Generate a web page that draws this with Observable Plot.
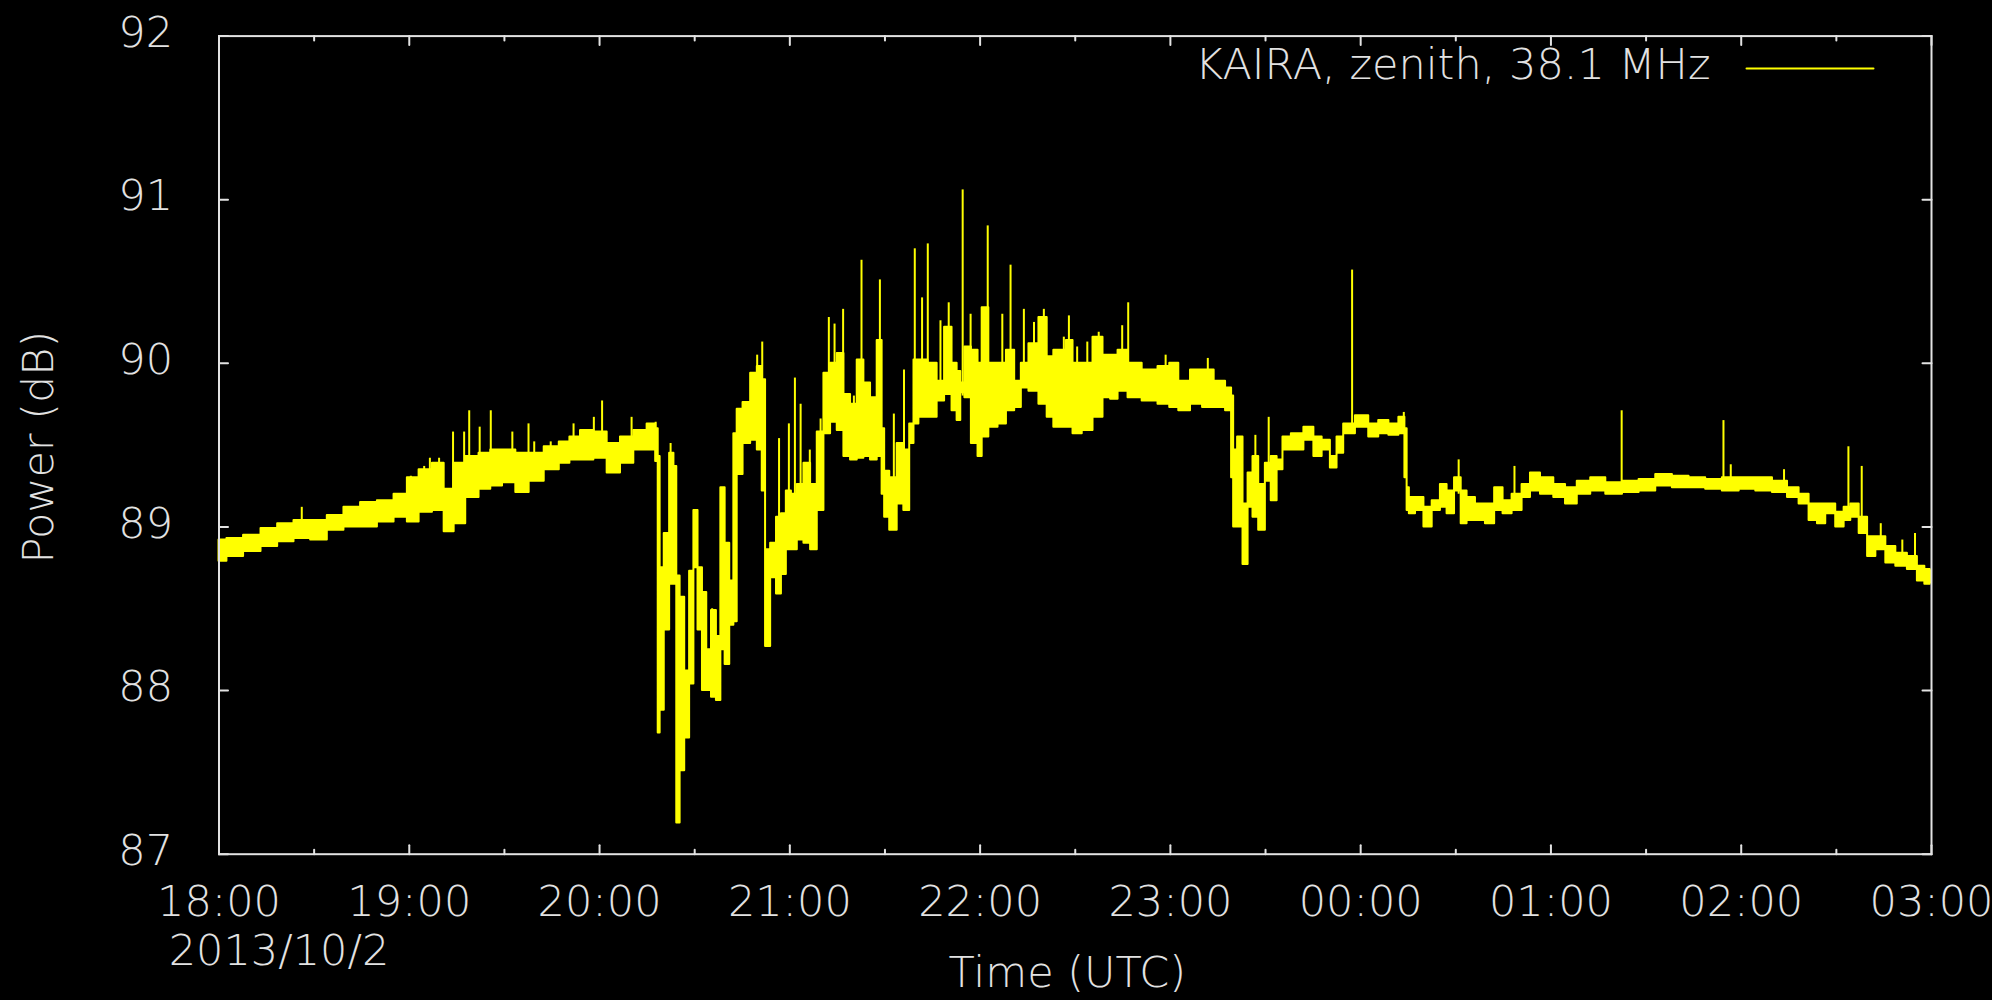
<!DOCTYPE html>
<html>
<head>
<meta charset="utf-8">
<script src="https://cdn.jsdelivr.net/npm/d3@7"></script>
<script src="https://cdn.jsdelivr.net/npm/@observablehq/plot@0.6"></script>
<style>
  html, body { margin: 0; padding: 0; background: #000; }
  #chart svg { display: block; }
</style>
</head>
<body>
<div id="chart"></div>
<script>
// Minutes after 2013/10/2 18:00 UTC
const bandMinutes = [0,5,10.5,16,21,26.3,31.5,36.8,42,47.3,52.6,57.8,61,65.2,69.4,72.6,75.7,79.9,84.1,87.3,91.5,95.7,99.9,105.2,109.4,111.9,116.1,120.3,124.5,128.7,132.9,137.1,138.3,138.7,139.5,141.3,142.9,144.0,144.7,146.1,147.6,149.2,150.3,151.8,153.1,154.5,156.1,157.6,158.9,160.3,161.8,162.9,163.9,166.6,168.7,170.8,171.8,172.9,175.0,176.6,178.1,179.7,181.3,183.4,185.5,187.6,189.7,191.8,193.9,196.0,198.1,200.2,202.3,204.4,206.5,208.6,209.6,210.2,212.8,214.9,217.0,218.6,219.7,221.7,225.4,227.5,230.1,232.2,233.3,234.5,235.9,238.6,240.1,241.2,244.3,247.0,249.6,252.2,253.8,257.0,260.1,262.2,264.3,266.4,268.0,270.6,273.8,277.4,280.1,282.2,284.8,288.5,293.7,298.5,301.1,304.2,308.5,311.8,315.8,319.0,319.6,320.3,322.1,323.7,325.3,326.8,328.9,331.0,332.6,334.7,336.3,340.0,344.2,346.3,349.4,351.5,353.6,355.7,361.0,364.1,367.3,370.5,373.6,374.3,375.0,375.7,378.9,381.0,384.1,386.2,388.3,390.9,392.5,394.6,397.8,400.9,403.6,406.2,409.3,412.5,414.6,418.8,423.0,426.2,430.4,434.7,439.9,445.2,450.4,455.7,460.9,466.2,471.4,476.7,482.0,487.2,492.5,496.7,499.8,503.0,505.1,508.2,511.4,513.5,515.6,518.8,520.9,524.0,527.2,530.3,534.5,536.6,539.2,540];
const bandLow = [88.79,88.82,88.85,88.88,88.91,88.93,88.92,88.98,89.00,89.00,89.03,89.06,89.03,89.09,89.10,88.97,89.02,89.18,89.23,89.25,89.27,89.21,89.28,89.35,89.39,89.41,89.41,89.42,89.33,89.39,89.47,89.47,89.40,87.74,87.88,88.37,88.65,88.65,87.19,87.51,87.71,88.04,88.75,88.37,88.00,88.00,87.96,87.94,88.25,88.16,88.40,88.42,89.32,89.51,89.53,89.47,89.22,88.27,88.69,88.59,88.71,88.86,88.86,88.92,88.90,88.86,89.10,89.57,89.64,89.59,89.43,89.41,89.42,89.43,89.41,89.43,89.20,89.06,88.98,89.14,89.10,89.51,89.63,89.67,89.67,89.77,89.81,89.71,89.65,89.82,89.79,89.51,89.43,89.55,89.61,89.63,89.71,89.73,89.85,89.83,89.75,89.67,89.61,89.61,89.61,89.57,89.59,89.67,89.79,89.78,89.83,89.79,89.77,89.75,89.73,89.71,89.75,89.73,89.73,89.71,89.30,89.00,89.00,88.77,89.12,89.06,88.98,89.28,89.16,89.35,89.47,89.47,89.53,89.43,89.47,89.36,89.45,89.57,89.61,89.55,89.57,89.56,89.57,89.30,89.10,89.08,89.10,89.00,89.10,89.12,89.08,89.22,89.02,89.04,89.04,89.02,89.10,89.08,89.10,89.18,89.22,89.20,89.18,89.14,89.20,89.22,89.20,89.21,89.22,89.25,89.24,89.24,89.23,89.22,89.23,89.22,89.21,89.18,89.14,89.04,89.02,89.08,89.00,89.04,89.06,88.96,88.82,88.86,88.78,88.76,88.74,88.67,88.65,88.66];
const bandHigh = [88.92,88.93,88.95,88.99,89.02,89.04,89.04,89.07,89.12,89.15,89.16,89.20,89.30,89.35,89.39,89.23,89.39,89.43,89.45,89.47,89.47,89.45,89.45,89.49,89.52,89.55,89.59,89.58,89.51,89.55,89.59,89.63,89.60,89.43,88.75,88.96,89.45,89.37,88.70,88.57,88.12,88.73,89.10,88.75,88.60,88.25,88.49,88.33,89.24,88.90,88.67,89.57,89.72,89.76,89.94,89.98,89.90,88.86,88.90,89.06,89.08,89.22,89.20,89.26,89.39,89.26,89.58,89.94,90.00,90.06,89.81,89.75,90.02,89.88,89.79,90.14,89.60,89.34,89.30,89.51,89.47,89.63,90.02,90.02,90.00,89.89,90.22,90.00,89.95,89.88,90.10,90.08,90.00,90.34,90.00,90.00,90.08,89.89,90.00,90.12,90.28,90.04,90.08,90.08,90.14,90.00,90.00,90.16,90.05,90.05,90.08,90.00,89.96,89.98,90.00,89.89,89.96,89.96,89.89,89.85,89.80,89.47,89.55,89.14,89.33,89.43,89.26,89.39,89.43,89.41,89.55,89.57,89.61,89.55,89.53,89.43,89.55,89.63,89.68,89.63,89.65,89.63,89.67,89.60,89.24,89.18,89.18,89.12,89.16,89.26,89.22,89.30,89.22,89.18,89.14,89.14,89.24,89.16,89.20,89.26,89.33,89.30,89.26,89.24,89.28,89.30,89.27,89.28,89.29,89.32,89.31,89.30,89.29,89.30,89.30,89.30,89.28,89.24,89.20,89.14,89.14,89.14,89.09,89.12,89.14,89.06,88.94,88.94,88.88,88.84,88.82,88.76,88.74,88.73];

// Narrow spikes: time, foot and tip (dB)
const spikeMinutes = [26.1,60.5,64.7,66.5,69.4,73.8,77.3,78.9,82.2,85.7,92.5,97.6,99.4,104.6,111.8,118.2,120.8,130.1,137.7,142.4,155.5,169.7,171.3,176.6,179.7,181.6,183.4,186.3,189.7,192.3,194.1,196.8,200.2,202.6,208.4,212.8,216.0,219.4,221.7,223.5,227.5,230.1,234.5,237.0,242.4,247.0,249.6,253.8,257.0,260.1,266.4,268.0,270.6,273.8,277.4,284.8,286.7,298.5,311.8,326.8,331.0,357.3,373.6,390.9,403.6,408.5,442.3,474.4,476.7,493.5,513.8,518.0,524.0,530.8,534.8];
const spikeBase = [89.03,89.20,89.25,89.30,89.30,89.20,89.30,89.30,89.35,89.35,89.40,89.40,89.40,89.40,89.45,89.50,89.50,89.50,89.50,89.00,88.00,89.60,89.60,88.80,89.00,89.00,89.00,89.00,89.30,89.70,89.70,89.70,89.50,89.60,89.60,89.10,89.20,89.70,89.80,89.80,89.80,89.90,89.80,89.90,89.80,89.80,89.80,89.90,89.90,89.90,89.80,89.80,89.80,89.80,89.80,89.90,89.90,89.80,89.80,89.20,89.30,89.60,89.60,89.20,89.10,89.10,89.25,89.25,89.25,89.25,89.05,89.05,88.90,88.80,88.80];
const spikeTop = [89.12,89.31,89.37,89.42,89.42,89.58,89.58,89.71,89.61,89.71,89.58,89.63,89.52,89.52,89.63,89.67,89.77,89.67,89.64,89.51,88.50,90.05,90.13,89.54,89.63,89.91,89.75,89.47,89.66,90.28,90.24,90.33,89.80,90.63,90.51,89.69,89.96,90.70,90.40,90.73,90.26,90.37,91.06,90.30,90.84,90.30,90.60,90.33,90.25,90.33,90.16,90.29,90.10,90.13,90.19,90.23,90.37,90.05,90.03,89.56,89.67,90.57,89.70,89.41,89.24,89.37,89.71,89.65,89.38,89.35,89.49,89.37,89.02,88.92,88.96];

const hourTicks = [0,60,120,180,240,300,360,420,480,540];
const xTickLabels = ["18:00","19:00","20:00","21:00","22:00","23:00","00:00","01:00","02:00","03:00"];
const halfHourTicks = [30,90,150,210,270,330,390,450,510];
const yTicks = [87,88,89,90,91,92];
const yTickLabels = ["87","88","89","90","91","92"];
const dateLabel = "2013/10/2";
const xTitle = "Time (UTC)";
const yTitle = "Power (dB)";
const seriesName = "KAIRA, zenith, 38.1 MHz";

const band = bandMinutes.map((m, i) => ({m, lo: bandLow[i], hi: bandHigh[i]}));
const spikes = spikeMinutes.map((m, i) => ({m, lo: spikeBase[i], hi: spikeTop[i]}));

const fg = "#e2e2e2";
const yellow = "#ffff00";
const FONT = 43;
const lineShape = {draw(ctx, l) { ctx.moveTo(0, 0); ctx.lineTo(0, -l); }};

const chart = Plot.plot({
  width: 1992,
  height: 1000,
  marginLeft: 218.5,
  marginRight: 61,
  marginTop: 35.6,
  marginBottom: 146.3,
  style: {background: "#000", color: fg, fontFamily: "'DejaVu Sans', sans-serif", fontWeight: 200},
  x: {domain: [0, 540], axis: null},
  y: {domain: [87, 92], axis: null},
  marks: [
    Plot.areaY(band, {x: "m", y1: "lo", y2: "hi", curve: "step", fill: yellow, stroke: yellow, strokeWidth: 2}),
    Plot.ruleX(spikes, {x: "m", y1: "lo", y2: "hi", stroke: yellow, strokeWidth: 2}),
    Plot.frame({stroke: fg, strokeWidth: 2}),
    // inward ticks, mirrored on all four sides
    Plot.vector(hourTicks, {x: d => d, frameAnchor: "bottom", rotate: 0, length: 9, anchor: "start", shape: lineShape, stroke: fg, strokeWidth: 2}),
    Plot.vector(hourTicks, {x: d => d, frameAnchor: "top", rotate: 180, length: 9, anchor: "start", shape: lineShape, stroke: fg, strokeWidth: 2}),
    Plot.vector(halfHourTicks, {x: d => d, frameAnchor: "bottom", rotate: 0, length: 4.5, anchor: "start", shape: lineShape, stroke: fg, strokeWidth: 2}),
    Plot.vector(halfHourTicks, {x: d => d, frameAnchor: "top", rotate: 180, length: 4.5, anchor: "start", shape: lineShape, stroke: fg, strokeWidth: 2}),
    Plot.vector(yTicks, {y: d => d, frameAnchor: "left", rotate: 90, length: 9, anchor: "start", shape: lineShape, stroke: fg, strokeWidth: 2}),
    Plot.vector(yTicks, {y: d => d, frameAnchor: "right", rotate: -90, length: 9, anchor: "start", shape: lineShape, stroke: fg, strokeWidth: 2}),
    // tick labels
    Plot.text(yTicks, {y: d => d, text: (d, i) => yTickLabels[i], frameAnchor: "left", dx: -46, dy: -3, textAnchor: "end", lineAnchor: "middle", fill: fg, fontSize: FONT}),
    Plot.text(hourTicks, {x: d => d, text: (d, i) => xTickLabels[i], frameAnchor: "bottom", dy: 48, textAnchor: "middle", lineAnchor: "middle", fill: fg, fontSize: FONT}),
    Plot.text([dateLabel], {frameAnchor: "bottom-left", dx: 60, dy: 97, textAnchor: "middle", lineAnchor: "middle", fill: fg, fontSize: FONT}),
    // axis titles
    Plot.text([xTitle], {frameAnchor: "bottom", dx: -8, dy: 119, textAnchor: "middle", lineAnchor: "middle", fill: fg, fontSize: FONT}),
    Plot.text([yTitle], {frameAnchor: "left", dx: -180, dy: 2, rotate: -90, textAnchor: "middle", lineAnchor: "middle", fill: fg, fontSize: FONT}),
    // legend
    Plot.text([seriesName], {frameAnchor: "top-right", dx: -221, dy: 29, textAnchor: "end", lineAnchor: "middle", fill: fg, fontSize: FONT}),
    Plot.vector([seriesName], {frameAnchor: "top-right", dx: -58, dy: 32.4, rotate: 90, length: 127, anchor: "end", shape: lineShape, stroke: yellow, strokeWidth: 2})
  ]
});
document.getElementById("chart").appendChild(chart);
</script>
</body>
</html>
